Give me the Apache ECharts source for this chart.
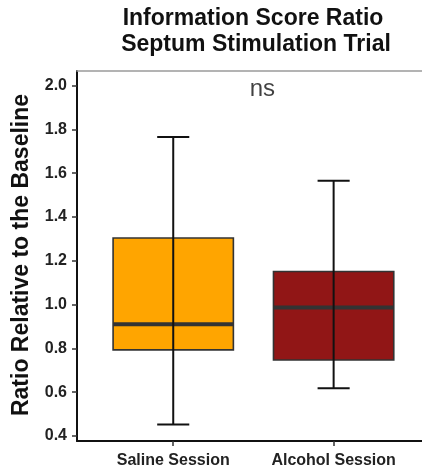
<!DOCTYPE html>
<html>
<head>
<meta charset="utf-8">
<script src="https://cdn.jsdelivr.net/npm/echarts@6/dist/echarts.min.js"></script>
<style>
  html, body { margin: 0; padding: 0; background: #fff; }
  #chart { width: 422px; height: 471px; }
</style>
</head>
<body>
<div id="chart"></div>
<script>
// Session groups and their box summaries (ratio to baseline)
var categories = ['Saline Session', 'Alcohol Session'];
var whiskerLow = [0.452, 0.618];
var quartile1 = [0.793, 0.747];
var medians = [0.910, 0.987];
var quartile3 = [1.304, 1.151];
var whiskerHigh = [1.766, 1.566];
var yTicks = [0.4, 0.6, 0.8, 1.0, 1.2, 1.4, 1.6, 1.8, 2.0];
var fills = ['#FFA500', '#911616'];
var sigLabel = 'ns';

var FONT = "'Liberation Sans', Arial, Helvetica, sans-serif";

// category positions on a continuous axis (1, 2, ...)
var positions = categories.map(function (c, i) { return i + 1; });
var boxData = categories.map(function (c, i) {
  return [positions[i], quartile1[i], medians[i], quartile3[i], whiskerLow[i], whiskerHigh[i]];
});

var BOX_HALF = 0.375;
var CAP_HALF = 0.1;

function renderBox(params, api) {
  var x = api.value(0);
  var q1 = api.value(1), med = api.value(2), q3 = api.value(3);
  var lo = api.value(4), hi = api.value(5);
  var tl = api.coord([x - BOX_HALF, q3]);
  var br = api.coord([x + BOX_HALF, q1]);
  var mL = api.coord([x - BOX_HALF, med]);
  var mR = api.coord([x + BOX_HALF, med]);
  var top = api.coord([x, hi]);
  var bot = api.coord([x, lo]);
  var capTL = api.coord([x - CAP_HALF, hi]);
  var capTR = api.coord([x + CAP_HALF, hi]);
  var capBL = api.coord([x - CAP_HALF, lo]);
  var capBR = api.coord([x + CAP_HALF, lo]);
  return {
    type: 'group',
    children: [
      {
        type: 'rect',
        shape: { x: tl[0], y: tl[1], width: br[0] - tl[0], height: br[1] - tl[1] },
        style: { fill: fills[params.dataIndex], stroke: '#333333', lineWidth: 1.6 }
      },
      {
        type: 'line',
        shape: { x1: mL[0], y1: mL[1], x2: mR[0], y2: mR[1] },
        style: { stroke: '#333333', lineWidth: 4 }
      },
      {
        type: 'line',
        shape: { x1: top[0], y1: top[1], x2: bot[0], y2: bot[1] },
        style: { stroke: '#111111', lineWidth: 2 }
      },
      {
        type: 'line',
        shape: { x1: capTL[0], y1: capTL[1], x2: capTR[0], y2: capTR[1] },
        style: { stroke: '#111111', lineWidth: 2 }
      },
      {
        type: 'line',
        shape: { x1: capBL[0], y1: capBL[1], x2: capBR[0], y2: capBR[1] },
        style: { stroke: '#111111', lineWidth: 2 }
      }
    ]
  };
}

var chart = echarts.init(document.getElementById('chart'), null, { renderer: 'canvas' });

var option = {
  backgroundColor: '#ffffff',
  animation: false,
  textStyle: { fontFamily: FONT },
  grid: { left: 77, right: 0, top: 71, bottom: 30 },
  xAxis: [
    {
      type: 'value',
      min: 0.4,
      max: 2.551,
      position: 'bottom',
      splitLine: { show: false },
      axisLine: { show: true, lineStyle: { color: '#111111', width: 2 } },
      axisTick: { show: true, customValues: positions, length: 5, lineStyle: { color: '#333333', width: 1.5 } },
      axisLabel: {
        customValues: positions,
        formatter: function (v) { return categories[Math.round(v) - 1] || ''; },
        color: '#222222',
        fontFamily: FONT,
        fontWeight: 'bold',
        fontSize: 16,
        margin: 12
      }
    },
    {
      type: 'value',
      min: 0.4,
      max: 2.551,
      position: 'top',
      splitLine: { show: false },
      axisLine: { show: true, lineStyle: { color: '#9a9a9a', width: 1.5 } },
      axisTick: { show: false },
      axisLabel: { show: false }
    }
  ],
  yAxis: {
    type: 'value',
    min: 0.377,
    max: 2.067,
    splitLine: { show: false },
    axisLine: { show: true, lineStyle: { color: '#111111', width: 2 } },
    axisTick: { show: true, customValues: yTicks, length: 5, lineStyle: { color: '#333333', width: 1.5 } },
    axisLabel: {
      customValues: yTicks,
      formatter: function (v) { return v.toFixed(1); },
      color: '#222222',
      fontFamily: FONT,
      fontWeight: 'bold',
      fontSize: 16,
      margin: 10
    }
  },
  series: [
    {
      type: 'custom',
      xAxisIndex: 0,
      renderItem: renderBox,
      data: boxData,
      clip: false
    },
    {
      type: 'scatter',
      xAxisIndex: 0,
      symbolSize: 0,
      silent: true,
      data: [[1.556, 1.982]],
      label: {
        show: true,
        position: 'inside',
        formatter: sigLabel,
        color: '#111111',
        fontFamily: FONT,
        fontSize: 24
      }
    }
  ],
  graphic: [
    {
      type: 'text',
      x: 253, y: 19,
      style: {
        text: 'Information Score Ratio',
        fill: '#111111', font: 'bold 23px ' + FONT,
        align: 'center', verticalAlign: 'middle'
      }
    },
    {
      type: 'text',
      x: 256, y: 45,
      style: {
        text: 'Septum Stimulation Trial',
        fill: '#111111', font: 'bold 23px ' + FONT,
        align: 'center', verticalAlign: 'middle'
      }
    },
    {
      type: 'text',
      x: 22, y: 255,
      rotation: Math.PI / 2,
      style: {
        text: 'Ratio Relative to the Baseline',
        fill: '#111111', font: 'bold 23px ' + FONT,
        align: 'center', verticalAlign: 'middle'
      }
    }
  ]
};

chart.setOption(option);
</script>
</body>
</html>
